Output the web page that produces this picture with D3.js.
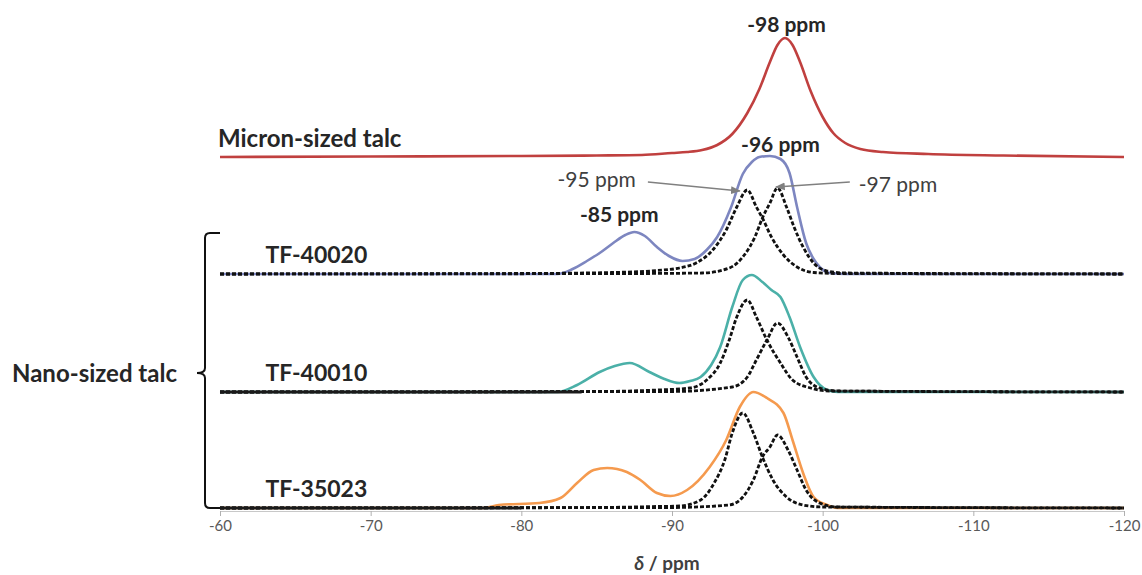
<!DOCTYPE html>
<meta charset="utf-8">
<style>
    body { margin: 0; background: #fff; }
    svg text { font-family: Lato, "Open Sans", sans-serif; }
</style>
<div id="chart"></div>
<script src="https://d3js.org/d3.v7.min.js"></script>
<script>

    // spectra: [ppm, intensity above own baseline]
    var micron = [[-60,0],[-70,0.5],[-80,1],[-85,1.5],[-88,2],[-90,4],[-91,5],[-92,7],[-93,12],[-94,23],[-95,44],
        [-95.8,68],[-96.5,95],[-97,112],[-97.5,119],[-98,112],[-98.5,95],[-99.2,66],[-100,40],[-100.7,24],
        [-101.5,14],[-102.5,8],[-104,5],[-107,3],[-112,1.5],[-120,0]];

    var tf40020 = [[-60,0],[-82.4,0],[-83.4,5],[-84.35,13],[-85.2,21],[-86.1,31],[-86.9,39],[-87.5,42],[-88.2,38],
        [-89,27],[-89.8,18],[-90.7,13],[-91.5,15],[-92.3,24],[-93,37],[-93.9,66],[-94.7,100],[-95.3,112],
        [-95.8,117],[-96.5,118],[-97.2,115],[-97.8,101],[-98.3,67],[-98.9,31],[-99.4,15],[-99.8,7],
        [-100.5,1],[-101.5,0],[-120,0]];

    var tf40010 = [[-60,0],[-82.4,0],[-83.7,7],[-85.2,20],[-86.2,26],[-87.2,29],[-88.5,20],[-89.5,13],[-90.5,9],
        [-91.2,11],[-91.9,15],[-92.6,27],[-93.2,45],[-94,85],[-94.7,112],[-95.3,117],[-96,110],[-96.6,102],
        [-97.2,95],[-97.8,75],[-98.5,45],[-99.4,15],[-100.3,2],[-101,0],[-120,0]];

    var tf35023 = [[-60,0],[-77.5,0],[-78.5,3],[-81.2,5],[-82.6,10],[-83.7,25],[-84.8,38],[-85.7,40],[-87,36],
        [-87.9,28],[-89,15],[-89.9,12],[-91,18],[-92.5,41],[-93.6,68],[-94.5,101],[-95.4,116],[-96.3,110],
        [-97.4,95],[-98,68],[-98.7,35],[-99.4,11],[-100.3,3],[-101,0],[-120,0]];

    // fitted components (dashed)
    var c40020a = [[-60,0],[-80,0.5],[-86,1.5],[-89,3.5],[-90.5,6],[-91.6,11],[-92.7,24],[-93.6,44],[-94.3,67],
        [-95,84],[-95.6,67],[-96,56],[-96.6,37],[-97.4,19],[-98.3,7],[-99.4,1.5],[-101,0.5],[-120,0]];
    var c40020b = [[-60,0],[-88,0.5],[-92,1],[-93.8,6],[-94.8,19],[-95.5,37],[-96,56],[-96.5,71],[-97,86],
        [-97.6,67],[-98.1,47],[-98.7,27],[-99.4,11],[-100.3,3],[-101.5,1],[-120,0]];
    var c40010a = [[-60,0],[-85,0.5],[-89,2],[-91.2,4],[-92.3,12],[-93.2,29],[-93.8,52],[-94.3,75],[-95,92],
        [-95.6,75],[-96.3,52],[-97.2,29],[-98,12],[-99.2,4],[-100.5,1],[-120,0]];
    var c40010b = [[-60,0],[-90,0.5],[-94,5],[-95,15],[-95.6,32],[-96.3,52],[-97,69],[-97.7,55],[-98.3,35],
        [-98.9,15],[-99.8,4],[-101,1],[-120,0]];
    var c35023a = [[-60,0],[-85,0.5],[-89,1.5],[-90.5,2],[-91.9,8],[-92.8,25],[-93.5,48],[-94,75],[-94.7,95],
        [-95.4,75],[-96,51],[-96.7,28],[-97.6,11],[-98.7,3],[-100,1],[-120,0]];
    var c35023b = [[-60,0],[-90,0.5],[-93.8,3],[-94.7,11],[-95.4,28],[-96,51],[-96.5,61],[-97,73],[-97.7,58],
        [-98.3,38],[-98.9,18],[-99.8,5],[-101,1],[-120,0]];

    var names = ["Micron-sized talc", "TF-40020", "TF-40010", "TF-35023"];
    var offsets = [351, 234, 116, 0];
    var colors = ["#c0403f", "#7d86c0", "#4bb0a8", "#f59a4e"];
    var spectra = [micron, tf40020, tf40010, tf35023];
    var components = [[], [c40020a, c40020b], [c40010a, c40010b], [c35023a, c35023b]];
    var solidBaseEnd = [null, null, -84, -80];
    var tickVals = [-60, -70, -80, -90, -100, -110, -120];

    var width = 1142, height = 575;

    var svg = d3.select("#chart").append("svg")
        .attr("width", width)
        .attr("height", height);

    var x = d3.scaleLinear().domain([-60, -120]).range([220, 1124]);
    var y = d3.scaleLinear().domain([0, 480]).range([508, 28]);

    function lineAt(off) {
        return d3.line()
            .x(function (d) { return x(d[0]); })
            .y(function (d) { return y(d[1] + off); })
            .curve(d3.curveMonotoneX);
    }

    // x axis
    var axis = svg.append("g")
        .attr("transform", "translate(0," + (y(0) + 3) + ")")
        .call(d3.axisBottom(x).tickValues(tickVals).tickSize(5).tickPadding(4)
            .tickFormat(function (d) { return String(d); }));
    axis.select(".domain").attr("stroke", "#c8c8c8");
    axis.selectAll(".tick line").attr("stroke", "#b0b0b0");
    axis.selectAll(".tick text")
        .attr("fill", "#595959")
        .style("font-size", "15px");

    svg.append("text")
        .attr("x", x(-90) - 5)
        .attr("y", 570)
        .attr("text-anchor", "middle")
        .attr("fill", "#404040")
        .style("font-size", "19px")
        .style("font-weight", "bold")
        .html('<tspan font-style="italic">δ</tspan> / ppm');

    // spectra
    spectra.forEach(function (s, i) {
        svg.append("path")
            .datum(s)
            .attr("fill", "none")
            .attr("stroke", colors[i])
            .attr("stroke-width", 2.6)
            .attr("d", lineAt(offsets[i]));
    });

    // dashed fitted components, then solid left baseline on top
    components.forEach(function (cs, i) {
        cs.forEach(function (c) {
            svg.append("path")
                .datum(c)
                .attr("fill", "none")
                .attr("stroke", "#111")
                .attr("stroke-width", 2.8)
                .attr("stroke-dasharray", "4,2")
                .attr("d", lineAt(offsets[i]));
        });
        if (solidBaseEnd[i] !== null) {
            svg.append("line")
                .attr("x1", x(-60)).attr("x2", x(solidBaseEnd[i]))
                .attr("y1", y(offsets[i])).attr("y2", y(offsets[i]))
                .attr("stroke", "#1a1a1a")
                .attr("stroke-width", 3.2);
        }
    });

    // sample names
    svg.append("text")
        .attr("x", x(-60) - 2)
        .attr("y", y(offsets[0] + 10))
        .attr("fill", "#262626")
        .style("font-size", "24px")
        .style("font-weight", "bold")
        .text(names[0]);

    [1, 2, 3].forEach(function (i) {
        svg.append("text")
            .attr("x", x(-66.4))
            .attr("y", y(offsets[i] + 11))
            .attr("text-anchor", "middle")
            .attr("fill", "#262626")
            .style("font-size", "23px")
            .style("font-weight", "bold")
            .text(names[i]);
    });

    // bracket for nano-sized samples
    var bx = x(-60) - 15,
        bTop = y(offsets[1] + 41),
        bBot = y(offsets[3]),
        bMid = y(offsets[2] + 19);
    var p = d3.path();
    p.moveTo(x(-60), bTop);
    p.lineTo(bx + 5, bTop);
    p.quadraticCurveTo(bx, bTop, bx, bTop + 5);
    p.lineTo(bx, bMid - 5);
    p.quadraticCurveTo(bx, bMid, bx - 8, bMid);
    p.quadraticCurveTo(bx, bMid, bx, bMid + 5);
    p.lineTo(bx, bBot - 5);
    p.quadraticCurveTo(bx, bBot, bx + 5, bBot);
    p.lineTo(x(-60), bBot);
    svg.append("path")
        .attr("d", p.toString())
        .attr("fill", "none")
        .attr("stroke", "#111")
        .attr("stroke-width", 2);

    svg.append("text")
        .attr("x", 12)
        .attr("y", bMid + 9)
        .attr("fill", "#262626")
        .style("font-size", "24px")
        .style("font-weight", "bold")
        .text("Nano-sized talc");

    // peak labels
    var boldLabels = [
        { text: "-98 ppm", ppm: -97.6, v: 476 },
        { text: "-96 ppm", ppm: -97.2, v: 356 },
        { text: "-85 ppm", ppm: -86.5, v: 286 }
    ];
    boldLabels.forEach(function (d) {
        svg.append("text")
            .attr("x", x(d.ppm))
            .attr("y", y(d.v))
            .attr("text-anchor", "middle")
            .attr("fill", "#262626")
            .style("font-size", "21px")
            .style("font-weight", "bold")
            .text(d.text);
    });

    // arrowed labels for fitted components
    svg.append("defs").append("marker")
        .attr("id", "arr")
        .attr("viewBox", "0 0 10 10")
        .attr("refX", 9).attr("refY", 5)
        .attr("markerWidth", 7).attr("markerHeight", 7)
        .attr("orient", "auto")
        .append("path")
        .attr("d", "M0,1 L10,5 L0,9 z")
        .attr("fill", "#808080");

    var arrowLabels = [
        { text: "-95 ppm", ppm: -85.0, v: 321, anchor: "middle", from: [-88.4, 326], to: [-94.5, 317] },
        { text: "-97 ppm", ppm: -102.4, v: 316, anchor: "start", from: [-101.8, 326], to: [-96.9, 321] }
    ];
    arrowLabels.forEach(function (d) {
        svg.append("text")
            .attr("x", x(d.ppm))
            .attr("y", y(d.v))
            .attr("text-anchor", d.anchor)
            .attr("fill", "#404040")
            .style("font-size", "21px")
            .text(d.text);
        svg.append("line")
            .attr("x1", x(d.from[0])).attr("y1", y(d.from[1]))
            .attr("x2", x(d.to[0])).attr("y2", y(d.to[1]))
            .attr("stroke", "#808080")
            .attr("stroke-width", 1.4)
            .attr("marker-end", "url(#arr)");
    });

</script>
